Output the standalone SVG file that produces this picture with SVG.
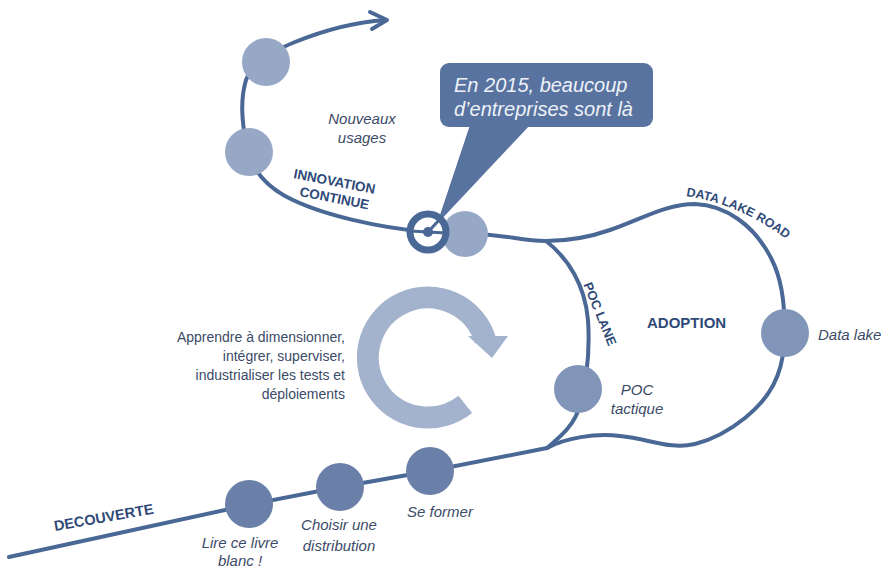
<svg xmlns="http://www.w3.org/2000/svg" width="886" height="568" viewBox="0 0 886 568">
  <style>
    .road { fill: none; stroke: #4a6895; stroke-width: 4; stroke-linecap: round; stroke-linejoin: round; }
    .dark { fill: #6b80a8; }
    .mid { fill: #8195b9; }
    .light { fill: #96a8c6; }
    .it { font-family: "Liberation Sans", Arial, sans-serif; font-style: italic; fill: #3c4b68; }
    .lbl { font-family: "Liberation Sans", Arial, sans-serif; font-weight: bold; fill: #2f4a78; }
    .plain { font-family: "Liberation Sans", Arial, sans-serif; fill: #3c4b68; font-size: 14px; text-anchor: end; }
  </style>

  <!-- connectors: roads -->
  <g id="connectors">
    <path class="road" d="M 9 557 L 248 505 L 340 487 L 430 471 L 547 448"/>
    <path class="road" d="M 547 448 C 560 437, 575 425, 580 405 C 588 375, 590 350, 588 320 C 585 285, 568 258, 546 241"/>
    <path class="road" d="M 547 448 C 565 438, 595 433, 620 436 C 650 439, 670 450, 695 444 C 715 439, 730 430, 745 418 C 770 398, 782 375, 784 345 C 786 310, 782 280, 772 260 C 755 225, 725 205, 695 204 C 665 204, 640 220, 610 230 C 590 237, 570 241, 546 241"/>
    <path class="road" d="M 546 241 C 520 241, 500 233, 465 234 L 428 232"/>
    <path class="road" d="M 428 232 C 380 228, 320 215, 285 196 C 262 183, 250 165, 246 145 C 242 120, 240 100, 246 80 C 252 65, 270 52, 295 42 C 325 30, 355 22, 385 20"/>
    <path class="road" d="M 370 12 L 387 20 L 372 29"/>
  </g>

  <!-- cycle arrow -->
  <g id="cycle">
    <path d="M 465.3 404.4 A 60 60 0 1 1 485.4 340.5" fill="none" stroke="#a3b3cd" stroke-width="22"/>
    <polygon points="468,336 508,336 492,358" fill="#a3b3cd"/>
  </g>

  <g id="lire"><circle class="dark" cx="249" cy="504" r="24"/></g>
  <g id="choisir"><circle class="dark" cx="340" cy="487" r="24"/></g>
  <g id="former"><circle class="dark" cx="430" cy="471" r="24"/></g>
  <g id="poc"><circle class="mid" cx="578" cy="389" r="24"/></g>
  <g id="datalake"><circle class="mid" cx="785" cy="333" r="24"/></g>
  <g id="usages1"><circle class="light" cx="249" cy="152" r="24"/></g>
  <g id="usages2"><circle class="light" cx="266" cy="62" r="24"/></g>
  <g id="current"><circle class="light" cx="465" cy="234" r="23"/></g>

  <!-- callout -->
  <g id="callout">
    <rect x="440" y="63" width="213" height="64" rx="9" fill="#5873a0"/>
    <polygon points="470,125 530,125 437,224" fill="#5873a0"/>
    <text class="it" x="454" y="92" font-size="20" fill="#eef2f8" style="fill:#eef2f8">En 2015, beaucoup</text>
    <text class="it" x="454" y="116" font-size="20" style="fill:#eef2f8">d’entreprises sont là</text>
  </g>

  <!-- position marker -->
  <g id="marker">
    <circle cx="428" cy="232" r="18" fill="#ffffff" stroke="#4a6895" stroke-width="7"/>
    <path d="M 410 231 L 446 233 M 428 232 L 440 219" stroke="#4a6895" stroke-width="3" fill="none"/>
    <circle cx="428" cy="232" r="5" fill="#4a6895"/>
  </g>

  <!-- labels -->
  <g id="labels">
    <text class="it" font-size="15" text-anchor="middle" x="362" y="124">Nouveaux</text>
    <text class="it" font-size="15" text-anchor="middle" x="362" y="143">usages</text>
    <text class="lbl" font-size="13.5" x="293" y="178" transform="rotate(11 293 178)">INNOVATION</text>
    <text class="lbl" font-size="13.5" x="299" y="196" transform="rotate(11 299 196)">CONTINUE</text>
    <text class="lbl" font-size="14.5" x="55" y="531" transform="rotate(-10 55 531)">DECOUVERTE</text>
    <text class="lbl" font-size="15" x="647" y="328">ADOPTION</text>
    <text class="lbl" font-size="13" text-anchor="middle" dominant-baseline="central" x="600" y="314" transform="rotate(68 600 314)">POC LANE</text>
    <path id="dlr" d="M 686 196 Q 745 205 795 246" fill="none"/>
    <text class="lbl" font-size="12.5"><textPath href="#dlr">DATA LAKE ROAD</textPath></text>
    <text class="it" font-size="15" x="818" y="340">Data lake</text>
    <text class="it" font-size="15" text-anchor="middle" x="637" y="395">POC</text>
    <text class="it" font-size="15" text-anchor="middle" x="637" y="414">tactique</text>
    <text class="it" font-size="15" text-anchor="middle" x="240" y="548">Lire ce livre</text>
    <text class="it" font-size="15" text-anchor="middle" x="240" y="566">blanc !</text>
    <text class="it" font-size="15" text-anchor="middle" x="339" y="530">Choisir une</text>
    <text class="it" font-size="15" text-anchor="middle" x="339" y="551">distribution</text>
    <text class="it" font-size="15" text-anchor="middle" x="440" y="517">Se former</text>
    <text class="plain" x="345" y="342">Apprendre à dimensionner,</text>
    <text class="plain" x="345" y="361">intégrer, superviser,</text>
    <text class="plain" x="345" y="380">industrialiser les tests et</text>
    <text class="plain" x="345" y="399">déploiements</text>
  </g>
</svg>
